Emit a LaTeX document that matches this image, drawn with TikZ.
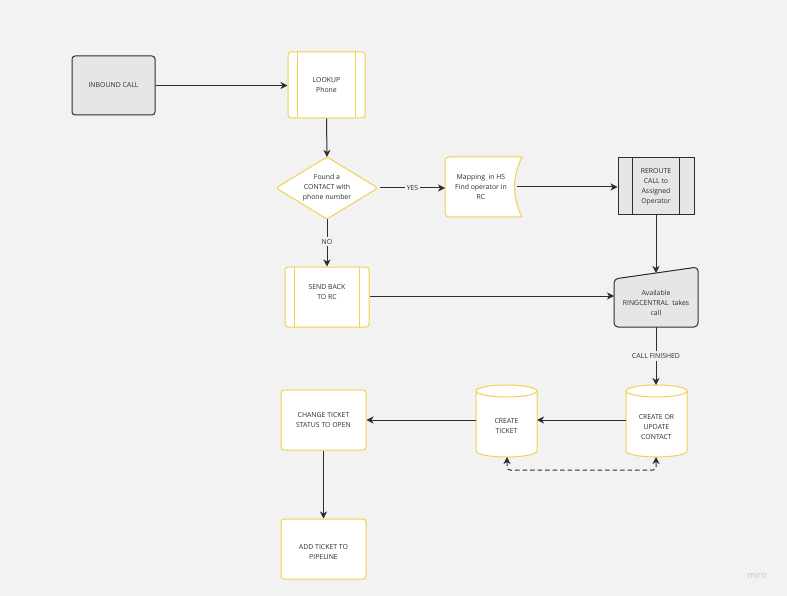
\documentclass[tikz,border=0pt]{standalone}
\usepackage{fontspec}
\setmainfont{Open Sans}
\usetikzlibrary{arrows.meta}
\definecolor{bg}{HTML}{F2F2F2}
\definecolor{ylw}{HTML}{F3D04E}
\definecolor{gry}{HTML}{E6E6E6}
\definecolor{dk}{HTML}{2E2E2E}
\begin{document}
\begin{tikzpicture}[x=1pt,y=-1pt,
  every node/.style={font=\fontsize{6.9pt}{10pt}\selectfont, text=dk, align=center},
  ybox/.style={draw=ylw, fill=white, rounded corners=3pt, line width=1pt, minimum width=85pt, minimum height=60pt, inner sep=0pt},
  gbox/.style={draw=dk, fill=gry, rounded corners=3pt, line width=1pt, minimum width=83pt, minimum height=59pt, inner sep=0pt},
  conn/.style={draw=dk, line width=1pt, -{Stealth[length=7pt,width=7pt,inset=2pt]}},
  lbl/.style={fill=bg, inner sep=2pt}
]
\fill[bg] (0,0) rectangle (787,596);
\useasboundingbox (0,0) rectangle (787,596);

% INBOUND CALL
\node[gbox] (inbound) at (113.5,85.5) {INBOUND CALL};

% LOOKUP Phone
\node[ybox, minimum width=77pt, minimum height=66pt] (lookup) at (326.5,85) {LOOKUP\\Phone};
\draw[ylw, line width=1pt] ([xshift=10pt]lookup.north west) -- ([xshift=10pt]lookup.south west)
  ([xshift=-10pt]lookup.north east) -- ([xshift=-10pt]lookup.south east);

% Decision
\path[draw=ylw, fill=white, line width=1pt, rounded corners=3pt]
  (327,157) -- (378,188) -- (327,219) -- (276,188) -- cycle;
\node[minimum width=102pt, minimum height=62pt, inner sep=0pt] (found) at (327,188) {Found a\\CONTACT with\\phone number};
\coordinate (foundN) at (327,157);
\coordinate (foundS) at (327,219);
\coordinate (foundE) at (380,188);

% Mapping (curved right side)
\path[draw=ylw, fill=white, line width=1pt]
  (449,157) -- (522,157) .. controls (512,177) and (512,197) .. (522,217)
  -- (449,217) arc[start angle=270, end angle=180, radius=4pt] -- (445,161)
  arc[start angle=180, end angle=90, radius=4pt] -- cycle;
\node[minimum width=70pt, minimum height=60pt, inner sep=0pt] (mapping) at (481,187) {Mapping\ \ in HS\\Find operator in\\RC};
\coordinate (mapW) at (445,188);
\coordinate (mapE) at (517,187);

% REROUTE
\node[draw=dk, fill=gry, line width=1pt, minimum width=76pt, minimum height=57pt, inner sep=0pt] (reroute) at (656,186.5) {REROUTE\\CALL to\\Assigned\\Operator};
\draw[dk, line width=1pt] ([xshift=15pt]reroute.north west) -- ([xshift=15pt]reroute.south west)
  ([xshift=-15pt]reroute.north east) -- ([xshift=-15pt]reroute.south east);

% SEND BACK TO RC
\node[ybox, minimum width=84pt, minimum height=60pt] (sendback) at (327,297) {};
\node at (327,292) {SEND BACK\\TO RC};
\draw[ylw, line width=1pt] ([xshift=10pt]sendback.north west) -- ([xshift=10pt]sendback.south west)
  ([xshift=-10pt]sendback.north east) -- ([xshift=-10pt]sendback.south east);

% Manual input
\path[draw=dk, fill=gry, line width=1pt, rounded corners=4pt]
  (614,279) -- (698,267) -- (698,327) -- (614,327) -- cycle;
\node[minimum width=84pt, minimum height=40pt, inner sep=0pt] (ring) at (656,303) {Available\\RINGCENTRAL\ \ takes\\call};
\coordinate (ringN) at (656,273);
\coordinate (ringW) at (614,296);
\coordinate (ringS) at (656,327);

% Cylinders
\newcommand{\cyldraw}[1]{%
  \path[draw=ylw, fill=white, line width=1pt]
    (#1-30.5,391) -- (#1-30.5,451) arc[start angle=180, end angle=360, x radius=30.5pt, y radius=6pt]
    -- (#1+30.5,391) arc[start angle=0, end angle=180, x radius=30.5pt, y radius=6pt];
  \draw[ylw, line width=1pt] (#1-30.5,391) arc[start angle=180, end angle=360, x radius=30.5pt, y radius=6pt];
}
\cyldraw{656.5}
\cyldraw{506.5}
\node[minimum width=61pt, minimum height=60pt, inner sep=0pt] (contact) at (656.5,427) {CREATE OR\\UPDATE\\CONTACT};
\node[minimum width=61pt, minimum height=60pt, inner sep=0pt] (ticket) at (506.5,426) {CREATE\\TICKET};
\coordinate (contactN) at (656,385);
\coordinate (contactW) at (626,420);
\coordinate (contactS) at (656,457);
\coordinate (ticketE) at (537,420);
\coordinate (ticketW) at (476,420);
\coordinate (ticketS) at (507,457);
\coordinate (dashL) at (507,470);
\coordinate (dashR) at (656,470);

% CHANGE TICKET / ADD TICKET
\node[ybox] (change) at (323.5,420) {CHANGE TICKET\\STATUS TO OPEN};
\node[ybox] (addticket) at (323.5,549) {};
\node at (323.5,552) {ADD TICKET TO\\PIPELINE};

% Connectors
\draw[conn] (inbound.east) -- (inbound.east -| lookup.west);
\draw[conn] (lookup.south) -- (foundN);
\draw[conn] (foundE) -- node[lbl]{YES} (mapW);
\draw[conn] (mapE) -- (mapE -| reroute.west);
\draw[conn] (reroute.south) -- (ringN);
\draw[conn] (foundS) -- node[lbl, pos=0.48]{NO} (sendback.north);
\draw[conn] (sendback.east |- ringW) -- (ringW);
\draw[conn] (ringS) -- node[lbl]{CALL FINISHED} (contactN);
\draw[conn] (contactW) -- (ticketE);
\draw[conn] (ticketW) -- (change.east);
\draw[conn] (change.south) -- (addticket.north);
\draw[draw=dk, line width=1pt, dash pattern=on 4.5pt off 3pt,
  {Stealth[length=7pt,width=7pt,inset=2pt]}-{Stealth[length=7pt,width=7pt,inset=2pt]}, rounded corners=3pt]
  (ticketS) -- (dashL) -- (dashR) -- (contactS);

% watermark
\node[font=\fontsize{9pt}{9pt}\selectfont, text=gray!45] (miro) at (757,575) {miro};
\end{tikzpicture}
\end{document}
